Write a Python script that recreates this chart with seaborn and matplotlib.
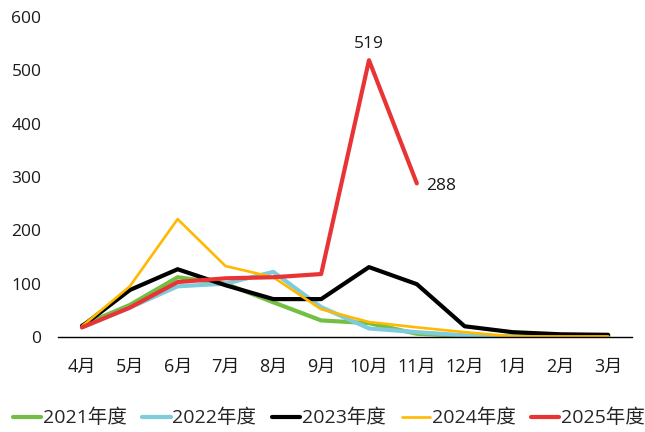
import matplotlib
matplotlib.use("Agg")
import matplotlib.pyplot as plt
import seaborn as sns
import pandas as pd
import numpy as np

months = ["4月", "5月", "6月", "7月", "8月", "9月", "10月", "11月", "12月", "1月", "2月", "3月"]
series_names = ["2021年度", "2022年度", "2023年度", "2024年度", "2025年度"]
v2021 = [22, 60, 112, 100, 65, 31, 26, 6, 2, 1, 1, 1]
v2022 = [18, 55, 95, 100, 122, 56, 16, 9, 3, 1, 1, 2]
v2023 = [20, 88, 127, 97, 71, 71, 131, 99, 20, 9, 5, 4]
v2024 = [20, 95, 221, 133, 112, 52, 28, 18, 9, 1, 1, 1]
v2025 = [18, 55, 103, 110, 112, 118, 519, 288, None, None, None, None]
colors = ["#72bf44", "#7ecbdc", "#000000", "#ffb900", "#e83434"]
widths = [3.0, 3.0, 3.0, 1.9, 3.0]

sns.set_theme(style="white")
plt.rcParams['font.family'] = ['Open Sans', 'Noto Sans CJK SC', 'DejaVu Sans']

rows = []
for name, vals in zip(series_names, [v2021, v2022, v2023, v2024, v2025]):
    for m, v in zip(months, vals):
        if v is not None:
            rows.append({"month": m, "value": v, "series": name})
df = pd.DataFrame(rows)

fig = plt.figure(figsize=(6.45, 4.32), dpi=100)
ax = fig.add_axes([0.09, 0.22, 0.89, 0.7406])

for name, c, w in zip(series_names, colors, widths):
    sub = df[df.series == name]
    x = [months.index(m) for m in sub.month]
    sns.lineplot(x=x, y=sub.value.values, ax=ax, color=c, linewidth=w, label=name,
                 sort=False, zorder=3 if name == "2025年度" else 2)

ax.set_xlim(-0.5, 11.5)
ax.set_ylim(0, 600)
ax.set_xticks(range(12))
ax.set_xticklabels(months)
ax.set_yticks([0, 100, 200, 300, 400, 500, 600])
ax.tick_params(axis='both', length=0, labelsize=12.5, colors="#1a1a1a")
ax.tick_params(axis='x', pad=15, labelsize=13)
ax.tick_params(axis='y', pad=12)
ax.set_xlabel("")
ax.set_ylabel("")
for s in ["top", "right", "left"]:
    ax.spines[s].set_visible(False)
ax.spines["bottom"].set_color("#000000")
ax.spines["bottom"].set_linewidth(1.0)
ax.grid(False)

ax.annotate(str(v2025[6]), (6, v2025[6]), xytext=(0, 6), textcoords="offset points",
            ha="center", va="bottom", fontsize=12.5, color="#1a1a1a")
ax.annotate(str(v2025[7]), (7, v2025[7]), xytext=(7, -2), textcoords="offset points",
            ha="left", va="center", fontsize=12.5, color="#1a1a1a")

ax.get_legend().remove()
handles, labels = ax.get_legend_handles_labels()
fig.legend(handles, labels, loc="center", bbox_to_anchor=(0.51, 0.032), ncol=5,
           frameon=False, fontsize=14, handlelength=1.45, handletextpad=0.1,
           columnspacing=0.8)

fig.savefig("out.png", dpi=100)
